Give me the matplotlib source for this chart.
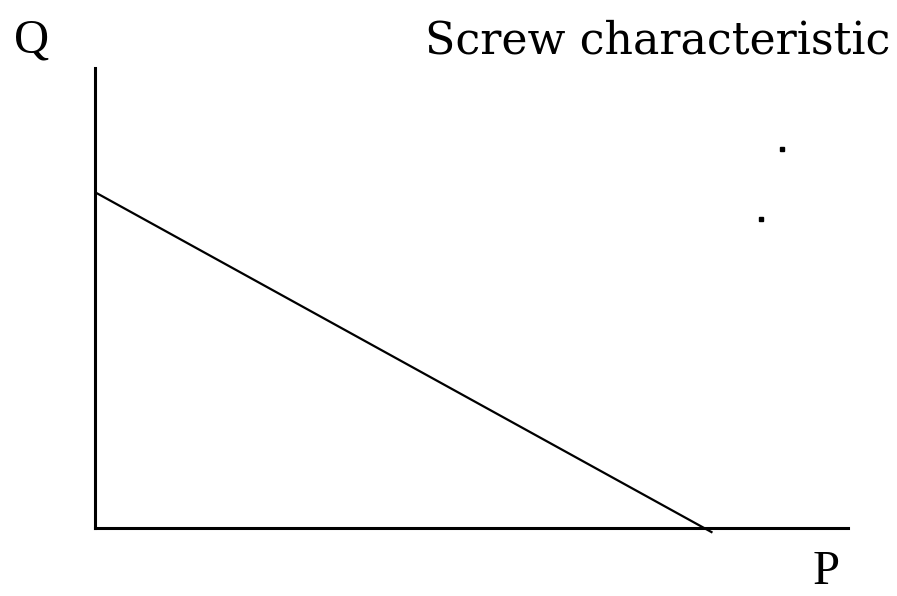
import matplotlib
matplotlib.use("Agg")
import matplotlib.pyplot as plt

# Dados (unidades relativas)
screw_p = [0.0, 0.82]
screw_q = [0.73, -0.01]
dots_p = [0.912, 0.884]
dots_q = [0.824, 0.672]

W, H = 897, 596
fig = plt.figure(figsize=(W / 100, H / 100), dpi=100)
fig.patch.set_facecolor("white")

# eixo em pixels: x 95..848, y 528..68
ax = fig.add_axes([95 / W, (H - 528) / H, (848 - 95) / W, (528 - 68) / H])
ax.set_xlim(0, 1)
ax.set_ylim(0, 1)
for s in ["top", "right"]:
    ax.spines[s].set_visible(False)
for s in ["left", "bottom"]:
    ax.spines[s].set_linewidth(2.2)
    ax.spines[s].set_color("black")
ax.set_xticks([])
ax.set_yticks([])

ax.plot(screw_p, screw_q, color="black", linewidth=1.6, clip_on=False,
        solid_capstyle="butt")
ax.plot(dots_p, dots_q, linestyle="none", marker="s", markersize=2.2,
        color="black", clip_on=False)

font = "Liberation Serif"
fig.text(14 / W, 1 - 52 / H, "Q", fontsize=35, family=font, ha="left", va="baseline")
fig.text(813 / W, 1 - 584 / H, "P", fontsize=35, family=font, ha="left", va="baseline")
title = fig.text(425 / W, 1 - 53 / H, "Screw characteristic", fontsize=35,
                 family="DejaVu Serif", ha="left", va="baseline")

# ajustar o tamanho para ocupar a mesma largura do original (~465 px)
renderer = fig.canvas.get_renderer()
w = title.get_window_extent(renderer).width
title.set_fontsize(35 * 465 / w)

fig.savefig("out.png", dpi=100, facecolor="white")
